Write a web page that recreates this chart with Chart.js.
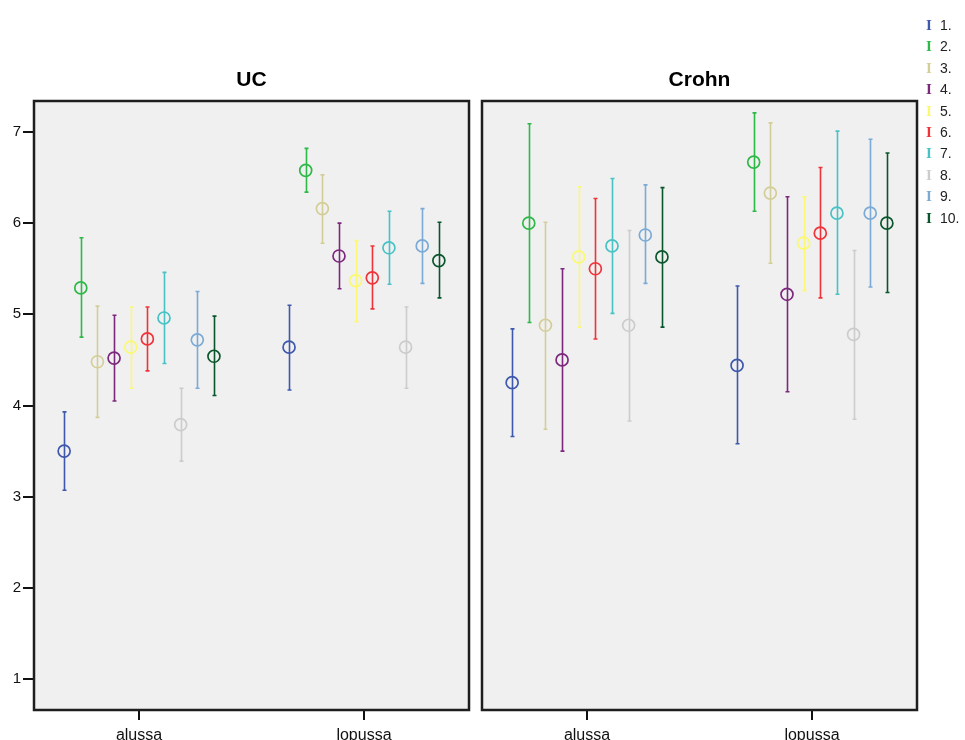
<!DOCTYPE html>
<html>
<head>
<meta charset="utf-8">
<script src="https://cdn.jsdelivr.net/npm/chart.js@4"></script>
<style>
  body { margin: 0; background: #fff; }
  #wrap { position: relative; width: 965px; height: 740px; overflow: hidden; }
  #ucChart { position: absolute; left: 0; top: 0; }
  #crohnChart { position: absolute; left: 478px; top: 0; }
  #legend { position: absolute; left: 922px; top: 15px; font-family: "Liberation Sans", Arial, sans-serif; font-size: 14px; color: #222; }
  #legend div { height: 21.4px; line-height: 21.4px; white-space: nowrap; }
  #legend span.mark { display: inline-block; width: 14px; text-align: center; font-family: "Liberation Serif", serif; font-size: 15px; font-weight: bold; margin-right: 4px; }
</style>
</head>
<body>
<div id="wrap">
  <canvas id="ucChart" width="478" height="740"></canvas>
  <canvas id="crohnChart" width="487" height="740"></canvas>
  <div id="legend"></div>
</div>
<script>
const groups = ['alussa', 'lopussa'];
const seriesNames = ['1.', '2.', '3.', '4.', '5.', '6.', '7.', '8.', '9.', '10.'];
const seriesColors = ['#3E58AC', '#2EB848', '#D3CE97', '#7C287D', '#FBF873',
                      '#EF3338', '#48C2C5', '#CCCCCC', '#7AAAD5', '#0A562C'];
const yTicks = [1, 2, 3, 4, 5, 6, 7];

// UC
const ucAlussaMean = [3.50, 5.29, 4.48, 4.52, 4.64, 4.73, 4.96, 3.79, 4.72, 4.54];
const ucAlussaLow  = [3.07, 4.75, 3.87, 4.05, 4.19, 4.38, 4.46, 3.39, 4.19, 4.11];
const ucAlussaHigh = [3.93, 5.84, 5.09, 4.99, 5.08, 5.08, 5.46, 4.19, 5.25, 4.98];
const ucLopussaMean = [4.64, 6.58, 6.16, 5.64, 5.37, 5.40, 5.73, 4.64, 5.75, 5.59];
const ucLopussaLow  = [4.17, 6.34, 5.78, 5.28, 4.92, 5.06, 5.33, 4.19, 5.34, 5.18];
const ucLopussaHigh = [5.10, 6.82, 6.53, 6.00, 5.81, 5.75, 6.13, 5.08, 6.16, 6.01];

// Crohn
const crohnAlussaMean = [4.25, 6.00, 4.88, 4.50, 5.63, 5.50, 5.75, 4.88, 5.87, 5.63];
const crohnAlussaLow  = [3.66, 4.91, 3.74, 3.50, 4.86, 4.73, 5.01, 3.83, 5.34, 4.86];
const crohnAlussaHigh = [4.84, 7.09, 6.01, 5.50, 6.40, 6.27, 6.49, 5.92, 6.42, 6.39];
const crohnLopussaMean = [4.44, 6.67, 6.33, 5.22, 5.78, 5.89, 6.11, 4.78, 6.11, 6.00];
const crohnLopussaLow  = [3.58, 6.13, 5.56, 4.15, 5.26, 5.18, 5.22, 3.85, 5.30, 5.24];
const crohnLopussaHigh = [5.31, 7.21, 7.10, 6.29, 6.29, 6.61, 7.01, 5.70, 6.92, 6.77];

const FONT = '"Liberation Sans", Arial, sans-serif';
const SPREAD = 0.074; // horizontal gap between series inside a group

function buildDatasets(means, lows, highs) {
    return seriesNames.map((name, i) => ({
        label: name,
        data: groups.map((g, gi) => ({
            x: gi + (i - 4.5) * SPREAD,
            y: means[gi][i],
            low: lows[gi][i],
            high: highs[gi][i]
        })),
        borderColor: seriesColors[i],
        backgroundColor: 'rgba(0,0,0,0)',
        pointRadius: 6,
        pointHoverRadius: 6,
        pointBorderWidth: 1.7,
        showLine: false
    }));
}

// grey panel, frame, error bars and the panel title
const panelPlugin = {
    id: 'panel',
    beforeDraw(chart) {
        const a = chart.chartArea;
        const ctx = chart.ctx;
        ctx.save();
        ctx.fillStyle = '#F0F0F0';
        ctx.fillRect(a.left, a.top, a.right - a.left, a.bottom - a.top);
        ctx.restore();
    },
    beforeDatasetsDraw(chart) {
        const ctx = chart.ctx;
        const xs = chart.scales.x, ys = chart.scales.y;
        ctx.save();
        chart.data.datasets.forEach(ds => {
            ctx.strokeStyle = ds.borderColor;
            ctx.lineWidth = 1.6;
            ds.data.forEach(p => {
                const px = Math.round(xs.getPixelForValue(p.x)) + 0.5;
                const yl = ys.getPixelForValue(p.low);
                const yh = ys.getPixelForValue(p.high);
                ctx.beginPath();
                ctx.moveTo(px, yl);
                ctx.lineTo(px, yh);
                ctx.moveTo(px - 2, yl);
                ctx.lineTo(px + 2, yl);
                ctx.moveTo(px - 2, yh);
                ctx.lineTo(px + 2, yh);
                ctx.stroke();
            });
        });
        ctx.restore();
    },
    afterDraw(chart) {
        const a = chart.chartArea;
        const ctx = chart.ctx;
        ctx.save();
        ctx.strokeStyle = '#1E1E1E';
        ctx.lineWidth = 2.5;
        ctx.strokeRect(a.left, a.top, a.right - a.left, a.bottom - a.top);
        ctx.fillStyle = '#000';
        ctx.font = 'bold 21px ' + FONT;
        ctx.textAlign = 'center';
        ctx.textBaseline = 'middle';
        ctx.fillText(chart.options.plugins.panelTitle, (a.left + a.right) / 2, 80);
        ctx.restore();
    }
};

function makeChart(canvasId, title, datasets, showY, padding) {
    return new Chart(document.getElementById(canvasId), {
        type: 'scatter',
        data: { datasets: datasets },
        plugins: [panelPlugin],
        options: {
            responsive: false,
            animation: false,
            layout: { padding: padding, autoPadding: false },
            plugins: {
                legend: { display: false },
                tooltip: { enabled: false },
                panelTitle: title
            },
            scales: {
                x: {
                    type: 'linear',
                    min: -0.467,
                    max: 1.467,
                    afterBuildTicks: s => { s.ticks = groups.map((g, i) => ({ value: i })); },
                    afterFit: s => { s.height = 30; },
                    ticks: {
                        callback: v => groups[v],
                        color: '#111',
                        font: { family: FONT, size: 16 },
                        padding: 6,
                        maxRotation: 0
                    },
                    grid: { drawOnChartArea: false, color: '#111', lineWidth: 2, tickLength: 10 },
                    border: { display: false }
                },
                y: {
                    display: showY,
                    min: 0.66,
                    max: 7.34,
                    afterBuildTicks: s => { s.ticks = yTicks.map(v => ({ value: v })); },
                    afterFit: s => { s.width = showY ? 34 : 0; },
                    ticks: {
                        color: '#111',
                        font: { family: FONT, size: 15 },
                        padding: 2
                    },
                    grid: { drawOnChartArea: false, color: '#111', lineWidth: 2, tickLength: 11 },
                    border: { display: false }
                }
            }
        }
    });
}

makeChart('ucChart', 'UC',
    buildDatasets([ucAlussaMean, ucLopussaMean], [ucAlussaLow, ucLopussaLow], [ucAlussaHigh, ucLopussaHigh]),
    true, { top: 101, right: 9, left: 0, bottom: 0 });

makeChart('crohnChart', 'Crohn',
    buildDatasets([crohnAlussaMean, crohnLopussaMean], [crohnAlussaLow, crohnLopussaLow], [crohnAlussaHigh, crohnLopussaHigh]),
    false, { top: 101, right: 48, left: 4, bottom: 0 });

// legend column
const legend = document.getElementById('legend');
seriesNames.forEach((name, i) => {
    const row = document.createElement('div');
    const mark = document.createElement('span');
    mark.className = 'mark';
    mark.style.color = seriesColors[i];
    mark.textContent = 'I';
    row.append(mark, document.createTextNode(name));
    legend.append(row);
});
</script>
</body>
</html>
